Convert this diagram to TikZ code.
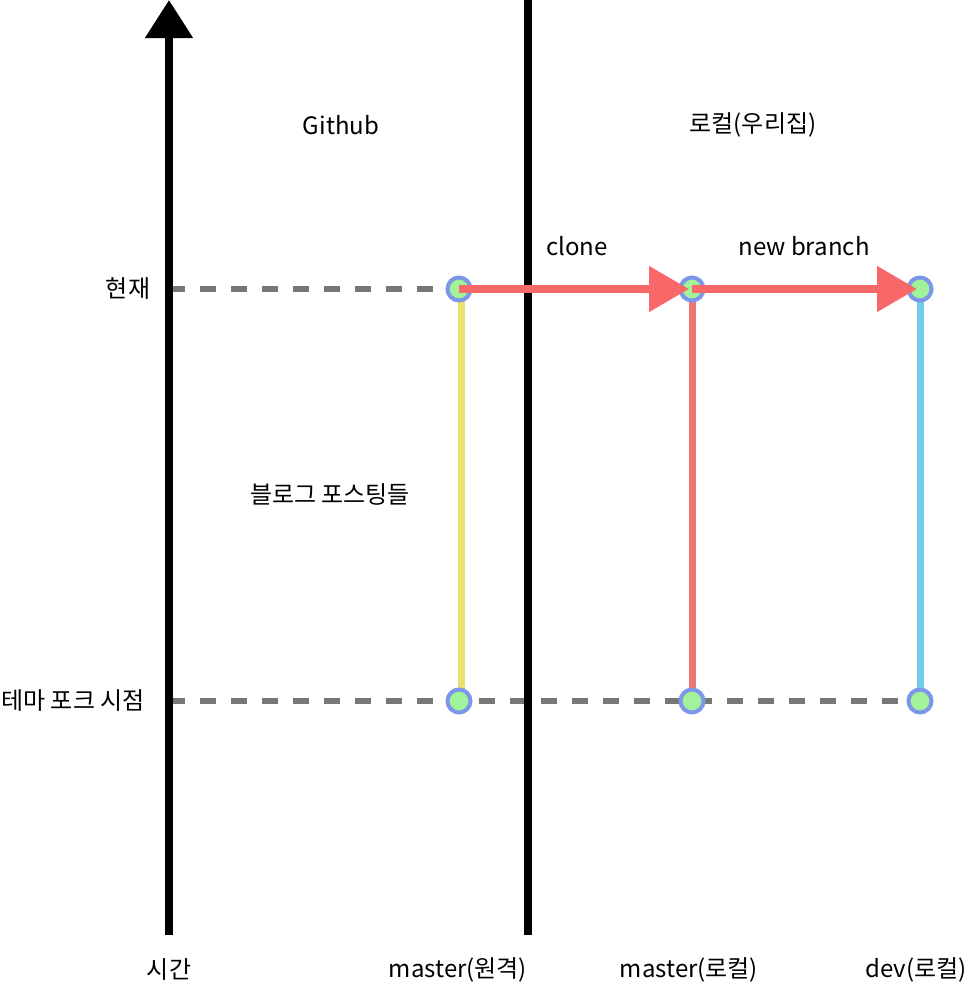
\documentclass[tikz,border=0pt]{standalone}
\usepackage{fontspec}
\setmainfont{Noto Sans CJK KR}
\usetikzlibrary{arrows.meta}
\definecolor{dashgray}{HTML}{777777}
\definecolor{ringblue}{HTML}{7C96EA}
\definecolor{nodegreen}{HTML}{A2F29A}
\definecolor{yel}{HTML}{EAE06E}
\definecolor{redline}{HTML}{EE7676}
\definecolor{cyanline}{HTML}{72CCE8}
\definecolor{arrowred}{HTML}{F86868}
\tikzset{
  commit/.style={circle,draw=ringblue,fill=nodegreen,line width=4pt,minimum size=23pt,inner sep=0pt},
  dashline/.style={draw=dashgray,line width=6pt,dash pattern=on 16pt off 15pt},
  axisline/.style={line width=8pt,black},
  branch/.style={line width=7pt},
  bigarrow/.style={draw=arrowred,line width=8pt,-{Triangle[length=40pt,width=44pt]}},
  lbl/.style={font=\fontsize{24}{28}\selectfont,inner sep=0pt}
}
\begin{document}
\begin{tikzpicture}[x=1pt,y=-1pt]
\useasboundingbox (0,0) rectangle (969,985);
% coordinates
\coordinate (axbot) at (169,935);
\coordinate (axtop) at (169,0);
\coordinate (divbot) at (528,935);
\coordinate (divtop) at (528,0);
\coordinate (dtop) at (169,289);
\coordinate (dbot) at (169,701);
\coordinate (dend) at (932,701);
% dashed lines
\draw[dashline] (dtop) -- (459,289);
\draw[dashline] (dbot) -- (dend);
% axis and divider
\draw[axisline,-{Triangle[length=38pt,width=46pt]}] (axbot) -- (axtop);
\draw[axisline] (divbot) -- (divtop);
% commit node positions
\coordinate (r2) at (459,289);
\coordinate (l2) at (692,289);
\coordinate (d2) at (920,289);
\coordinate (r1) at (459,701);
\coordinate (l1) at (692,701);
\coordinate (d1) at (920,701);
% branch lines (under nodes)
\draw[branch,yel] ([xshift=2pt]r1) -- ([xshift=2pt]r2);
\draw[branch,redline] (l1) -- (l2);
\draw[branch,cyanline] (d1) -- (d2);
% nodes
\node[commit] (cr2) at (r2) {};
\node[commit] (cl2) at (l2) {};
\node[commit] (cd2) at (d2) {};
\node[commit] (cr1) at (r1) {};
\node[commit] (cl1) at (l1) {};
\node[commit] (cd1) at (d1) {};
% arrows
\draw[bigarrow] (cr2.center) -- ([xshift=-3pt]cl2.center);
\draw[bigarrow] (cl2.center) -- ([xshift=-3pt]cd2.center);
% labels
\node[lbl] (github) at (341,125) {Github};
\node[lbl] (local) at (753,125) {로컬(우리집)};
\node[lbl] (clone) at (577,246) {clone};
\node[lbl] (newb) at (804,246) {new branch};
\node[lbl] (now) at (128,289) {현재};
\node[lbl] (posts) at (330,494) {블로그 포스팅들};
\node[lbl] (fork) at (73,701) {테마 포크 시점};
\node[lbl] (time) at (169,970) {시간};
\node[lbl] (mr) at (458,970) {master(원격)};
\node[lbl] (ml) at (689,970) {master(로컬)};
\node[lbl] (dl) at (916,970) {dev(로컬)};
\end{tikzpicture}
\end{document}
